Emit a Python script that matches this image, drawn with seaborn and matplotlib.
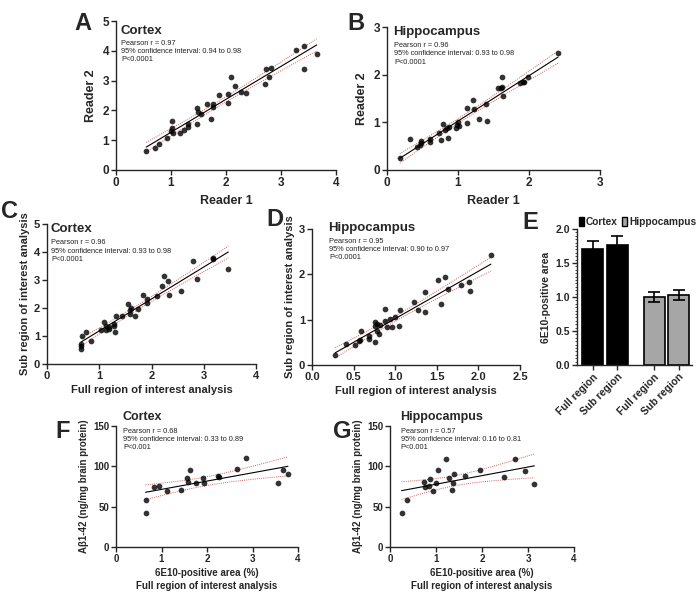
import numpy as np
import pandas as pd
import matplotlib
matplotlib.use('Agg')
import matplotlib.pyplot as plt
import seaborn as sns
from matplotlib.patches import Patch
from matplotlib.ticker import MultipleLocator

# A: cortex, reader 1 vs reader 2
a_reader1 = [0.55, 0.71, 0.79, 0.92, 1.01, 1.01, 1.00, 1.04, 1.16, 1.24, 1.30, 1.30,
             1.47, 1.47, 1.49, 1.55, 1.72, 1.66, 1.76, 1.76, 1.87, 2.03, 2.03, 2.09,
             2.16, 2.27, 2.36, 2.70, 2.72, 2.78, 2.81, 3.28, 3.42, 3.41, 3.65]
a_reader2 = [0.65, 0.75, 0.87, 1.06, 1.66, 1.40, 1.31, 1.23, 1.23, 1.34, 1.45, 1.53,
             1.54, 2.07, 1.96, 1.87, 1.71, 2.20, 2.21, 2.13, 2.51, 2.55, 2.24, 3.13,
             2.83, 2.63, 2.60, 2.87, 3.38, 3.13, 3.43, 4.03, 4.16, 3.38, 3.89]
a_stats = ["Pearson r = 0.97", "95% confidence interval: 0.94 to 0.98", "P<0.0001"]

# B: hippocampus, reader 1 vs reader 2
b_reader1 = [0.18, 0.32, 0.42, 0.46, 0.48, 0.48, 0.61, 0.61, 0.73, 0.76, 0.79, 0.81,
             0.84, 0.87, 0.86, 0.97, 0.99, 1.00, 1.01, 1.13, 1.13, 1.21, 1.23, 1.29,
             1.40, 1.41, 1.57, 1.60, 1.62, 1.62, 1.64, 1.87, 1.91, 1.93, 1.99, 2.41]
b_reader2 = [0.25, 0.65, 0.49, 0.53, 0.56, 0.61, 0.65, 0.58, 0.77, 0.63, 0.96, 0.84,
             0.88, 0.91, 0.68, 0.89, 0.95, 1.00, 0.93, 0.98, 1.30, 1.47, 1.28, 1.07,
             1.39, 1.03, 1.71, 1.72, 1.74, 1.96, 1.56, 1.82, 1.84, 1.85, 1.95, 2.46]
b_stats = ["Pearson r = 0.96", "95% confidence interval: 0.93 to 0.98", "P<0.0001"]

# C: cortex, full vs sub region of interest
c_full = [0.65, 0.65, 0.65, 0.67, 0.84, 0.75, 1.04, 1.10, 1.13, 1.13, 1.18, 1.19,
          1.29, 1.29, 1.31, 1.32, 1.43, 1.55, 1.58, 1.59, 1.61, 1.69, 1.74, 1.83,
          1.91, 1.92, 2.10, 2.20, 2.23, 2.31, 2.34, 2.56, 2.79, 2.87, 3.17, 3.18, 3.47]
c_sub = [0.73, 0.63, 0.55, 0.99, 0.81, 1.14, 1.20, 1.50, 1.35, 1.20, 1.31, 1.25,
         1.43, 1.35, 1.14, 1.70, 1.70, 2.14, 1.92, 1.79, 2.01, 1.73, 1.96, 2.46,
         2.18, 2.32, 2.44, 2.80, 3.13, 2.95, 2.48, 2.62, 3.67, 3.05, 3.79, 3.75, 3.39]
c_stats = ["Pearson r = 0.96", "95% confidence interval: 0.93 to 0.98", "P<0.0001"]

# D: hippocampus, full vs sub region of interest
d_full = [0.28, 0.41, 0.52, 0.56, 0.58, 0.59, 0.68, 0.69, 0.76, 0.76, 0.76, 0.78,
          0.78, 0.80, 0.82, 0.88, 0.88, 0.90, 0.94, 0.96, 1.00, 1.04, 1.06, 1.22,
          1.28, 1.36, 1.36, 1.52, 1.55, 1.60, 1.64, 1.79, 1.89, 1.90, 2.15]
d_sub = [0.21, 0.46, 0.44, 0.52, 0.55, 0.76, 0.63, 0.57, 0.50, 0.86, 0.94, 0.90,
         0.74, 0.69, 0.88, 1.24, 0.97, 0.83, 1.01, 0.83, 1.05, 0.85, 1.22, 1.39,
         1.22, 1.60, 1.18, 1.88, 1.34, 1.95, 1.67, 1.77, 1.84, 1.64, 2.42]
d_stats = ["Pearson r = 0.95", "95% confidence interval: 0.90 to 0.97", "P<0.0001"]

# E: mean 6E10-positive area
e_tissue = ["Cortex", "Cortex", "Hippocampus", "Hippocampus"]
e_region = ["Full region", "Sub region", "Full region", "Sub region"]
e_mean = [1.70, 1.77, 1.00, 1.03]
e_sem = [0.12, 0.13, 0.08, 0.08]

# F: cortex, 6E10 area vs Abeta1-42
f_area = [0.65, 0.66, 0.84, 0.94, 1.11, 1.43, 1.56, 1.59, 1.62, 1.76, 1.92, 1.93,
          2.24, 2.27, 2.66, 2.85, 3.56, 3.68, 3.78]
f_abeta = [42.7, 58, 75, 76, 69, 71, 85, 81, 95, 79, 86, 79, 88, 87, 97, 110, 79, 95, 90]
f_stats = ["Pearson r = 0.68", "95% confidence interval: 0.33 to 0.89", "P<0.001"]

# G: hippocampus, 6E10 area vs Abeta1-42
g_area = [0.25, 0.38, 0.74, 0.77, 0.85, 0.88, 0.94, 0.99, 1.05, 1.21, 1.28, 1.36,
          1.35, 1.40, 1.63, 1.95, 2.47, 2.71, 2.94, 3.14]
g_abeta = [42.7, 57.7, 80, 74, 76, 84.5, 69, 79, 95, 109, 86, 79, 71, 90, 88, 95.5,
           87, 109, 94, 78.5]
g_stats = ["Pearson r = 0.57", "95% confidence interval: 0.16 to 0.81", "P<0.001"]

sns.set_style("ticks")
plt.rcParams['font.family'] = ['Liberation Sans', 'DejaVu Sans']
plt.rcParams['axes.linewidth'] = 1.0
plt.rcParams['xtick.major.width'] = 1.0
plt.rcParams['ytick.major.width'] = 1.0
plt.rcParams['xtick.major.size'] = 3.5
plt.rcParams['ytick.major.size'] = 3.5

W, H = 700, 596
fig = plt.figure(figsize=(7.0, 5.96), dpi=100)


def px_axes(left, top, right, bottom):
    return fig.add_axes([left / W, 1 - bottom / H, (right - left) / W, (bottom - top) / H])


def t975(df):
    z = 1.959964
    return z + (z**3 + z) / (4 * df) + (5 * z**5 + 16 * z**3 + 3 * z) / (96 * df**2)


def corr_panel(ax, x, y, title, stats, title_pos, stats_y, fs_title=9.5):
    x = np.asarray(x, dtype=float)
    y = np.asarray(y, dtype=float)
    sns.regplot(x=x, y=y, ax=ax, ci=None, color='black',
                scatter_kws=dict(s=17, linewidths=0, zorder=3),
                line_kws=dict(lw=0.8, zorder=2))
    # 95% confidence band of the fitted line
    n = len(x)
    slope, icpt = np.polyfit(x, y, 1)
    xs = np.linspace(x.min(), x.max(), 100)
    resid = y - (icpt + slope * x)
    s = np.sqrt(np.sum(resid**2) / (n - 2))
    se = s * np.sqrt(1 / n + (xs - x.mean())**2 / np.sum((x - x.mean())**2))
    for sign in (1, -1):
        ax.plot(xs, icpt + slope * xs + sign * t975(n - 2) * se, ls=(0, (1, 1.2)),
                lw=0.7, color='#d0625f', zorder=2)
    ax.text(title_pos[0], title_pos[1], title, transform=ax.transAxes,
            fontsize=fs_title, fontweight='bold', va='center', ha='left')
    ax.text(title_pos[0] + 0.005, stats_y, "\n".join(stats), transform=ax.transAxes,
            fontsize=5.3, va='top', ha='left', linespacing=1.25, color='#222222')
    sns.despine(ax=ax)


def style_ticks(ax, size=8):
    ax.tick_params(labelsize=size, pad=1.5)
    for lab in ax.get_xticklabels() + ax.get_yticklabels():
        lab.set_fontweight('bold')


# A
axA = px_axes(116, 21, 336, 170)
corr_panel(axA, a_reader1, a_reader2, "Cortex", a_stats, (0.02, 0.93), 0.875)
axA.set(xlim=(0, 4), ylim=(0, 5), xticks=range(5), yticks=range(6))
axA.set_xlabel("Reader 1", fontsize=9, fontweight='bold', labelpad=4)
axA.set_ylabel("Reader 2", fontsize=9, fontweight='bold', labelpad=4)
style_ticks(axA, 8.5)

# B
axB = px_axes(387, 27, 600, 170)
corr_panel(axB, b_reader1, b_reader2, "Hippocampus", b_stats, (0.03, 0.965), 0.895)
axB.set(xlim=(0, 3), ylim=(0, 3), xticks=range(4), yticks=range(4))
axB.set_xlabel("Reader 1", fontsize=9, fontweight='bold', labelpad=4)
axB.set_ylabel("Reader 2", fontsize=9, fontweight='bold', labelpad=4)
style_ticks(axB, 8.5)

# C
axC = px_axes(47, 224, 256, 364)
corr_panel(axC, c_full, c_sub, "Cortex", c_stats, (0.015, 0.964), 0.89)
axC.set(xlim=(0, 4), ylim=(0, 5), xticks=range(5), yticks=range(6))
axC.set_xlabel("Full region of interest analysis", fontsize=8, fontweight='bold', labelpad=3)
axC.set_ylabel("Sub region of interest analysis", fontsize=8, fontweight='bold', labelpad=3)
style_ticks(axC, 8)

# D
axD = px_axes(312, 229, 520, 365)
corr_panel(axD, d_full, d_sub, "Hippocampus", d_stats, (0.077, 1.01), 0.935)
axD.set(xlim=(0, 2.5), ylim=(0, 3), yticks=range(4))
axD.set_xticks([0, 0.5, 1.0, 1.5, 2.0, 2.5])
axD.set_xlabel("Full region of interest analysis", fontsize=8, fontweight='bold', labelpad=3)
axD.set_ylabel("Sub region of interest analysis", fontsize=8, fontweight='bold', labelpad=3)
style_ticks(axD, 8)

# E
axE = px_axes(577, 229, 692, 365)
e_df = pd.DataFrame({"tissue": e_tissue, "region": e_region, "mean": e_mean, "sem": e_sem})
sns.barplot(data=e_df, x="tissue", y="mean", hue="region", ax=axE, width=0.8, gap=0.14,
            legend=False, errorbar=None)
e_colors = {"Cortex": "black", "Hippocampus": "#a6a6a6"}
bars = sorted(axE.patches, key=lambda p: p.get_x())
centers = [p.get_x() + p.get_width() / 2 for p in bars]
for p, tissue in zip(bars, e_tissue):
    p.set_facecolor(e_colors[tissue])
    p.set_edgecolor('black')
    p.set_linewidth(1.2)
axE.errorbar(centers, [p.get_height() for p in bars], yerr=e_sem, fmt='none',
             ecolor='black', elinewidth=1.2, capsize=4.3, capthick=1.2, zorder=3)
axE.set_xlim(-0.46, 1.42)
axE.set_ylim(0, 2)
axE.set_yticks([0, 0.5, 1.0, 1.5, 2.0])
axE.yaxis.set_minor_locator(MultipleLocator(0.05))
axE.tick_params(axis='y', which='minor', length=1.8, width=0.6)
axE.set_xticks(centers)
axE.set_xticklabels(e_region, rotation=45, ha='right', rotation_mode='anchor')
axE.set_xlabel("")
axE.set_ylabel("6E10-positive area", fontsize=7.5, fontweight='bold', labelpad=3)
style_ticks(axE, 7.5)
sns.despine(ax=axE)
axE.legend(handles=[Patch(facecolor='black', edgecolor='black'),
                    Patch(facecolor='#a6a6a6', edgecolor='black', linewidth=1.0)],
           labels=["Cortex", "Hippocampus"], loc='lower left', bbox_to_anchor=(0.0, 1.0),
           ncol=2, frameon=False, handlelength=0.5, handleheight=1.1, handletextpad=0.2,
           columnspacing=0.4, borderpad=0, borderaxespad=0.2,
           prop=dict(size=7.3, weight='bold'))

# F
axF = px_axes(116, 426, 298, 547)
corr_panel(axF, f_area, f_abeta, "Cortex", f_stats, (0.033, 1.075), 0.985, fs_title=9)
axF.set(xlim=(0, 4), ylim=(0, 150), xticks=range(5), yticks=[0, 50, 100, 150])
axF.set_xlabel("6E10-positive area (%)\nFull region of interest analysis",
               fontsize=7, fontweight='bold', labelpad=3, linespacing=1.35)
axF.set_ylabel("A\u03b21-42 (ng/mg brain protein)", fontsize=7, fontweight='bold', labelpad=3)
style_ticks(axF, 7)

# G
axG = px_axes(390, 426, 574, 547)
corr_panel(axG, g_area, g_abeta, "Hippocampus", g_stats, (0.054, 1.075), 0.985, fs_title=9)
axG.set(xlim=(0, 4), ylim=(0, 150), xticks=range(5), yticks=[0, 50, 100, 150])
axG.set_xlabel("6E10-positive area (%)\nFull region of interest analysis",
               fontsize=7, fontweight='bold', labelpad=3, linespacing=1.35)
axG.set_ylabel("A\u03b21-42 (ng/mg brain protein)", fontsize=7, fontweight='bold', labelpad=3)
style_ticks(axG, 7)

# panel letters
for letter, (px, py) in {"A": (83, 23), "B": (356, 23), "C": (9, 211), "D": (275, 219),
                         "E": (530, 222), "F": (63, 432), "G": (342, 432)}.items():
    fig.text(px / W, 1 - py / H, letter, fontsize=17, fontweight='bold',
             ha='center', va='center')

fig.savefig("out.png", dpi=100)
